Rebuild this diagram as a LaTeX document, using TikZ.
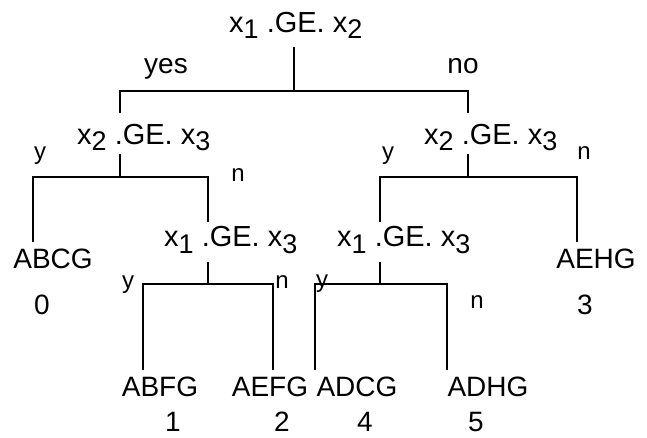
\documentclass[tikz,border=0pt]{standalone}
\usepackage{fontspec}
\setmainfont{Liberation Sans}
\newcommand{\sbx}[1]{\raisebox{-6pt}{\fontsize{27}{27}\selectfont #1}}
\begin{document}
\begin{tikzpicture}[x=1pt,y=-1pt,
  conn/.style={line width=2.8pt},
  cond/.style={anchor=base west,inner sep=0pt,font=\fontsize{29}{29}\selectfont},
  leaf/.style={anchor=base,inner sep=0pt,font=\fontsize{28}{28}\selectfont},
  num/.style={leaf,text depth=0pt,text height=20pt},
  lab/.style={anchor=base,inner sep=0pt,font=\fontsize{28}{28}\selectfont},
  yn/.style={anchor=base,inner sep=0pt,font=\fontsize{24}{24}\selectfont}]
\useasboundingbox (0,0) rectangle (647,438);
% condition nodes
\node[cond] (r)  at (229,33)  {x\sbx{1} .GE. x\sbx{2}};
\node[cond] (c1) at (77,145)  {x\sbx{2} .GE. x\sbx{3}};
\node[cond] (c2) at (424,145) {x\sbx{2} .GE. x\sbx{3}};
\node[cond] (c3) at (164,247) {x\sbx{1} .GE. x\sbx{3}};
\node[cond] (c4) at (337,247) {x\sbx{1} .GE. x\sbx{3}};
% leaves
\node[leaf] (l0) at (53,268)  {ABCG};
\node[num]  (n0) at (42,314)  {0};
\node[leaf] (l3) at (596,268) {AEHG};
\node[num]  (n3) at (585,314) {3};
\node[leaf] (l1) at (160,396) {ABFG};
\node[num]  (n1) at (173,431) {1};
\node[leaf] (l2) at (270,396) {AEFG};
\node[num]  (n2) at (282,431) {2};
\node[leaf] (l4) at (357,396) {ADCG};
\node[num]  (n4) at (365,431) {4};
\node[leaf] (l5) at (488,396) {ADHG};
\node[num]  (n5) at (476,431) {5};
% branch labels
\node[lab] (yes) at (166,74) {yes};
\node[lab] (no)  at (463,74) {no};
\node[yn] (y1) at (40,160)  {y};
\node[yn] (m1) at (238,182) {n};
\node[yn] (y2) at (388,160) {y};
\node[yn] (m2) at (584,160) {n};
\node[yn] (y3) at (128,288) {y};
\node[yn] (m3) at (282,288) {n};
\node[yn] (y4) at (322,287) {y};
\node[yn] (m4) at (477,308) {n};
% attachment points
\coordinate (r-b)  at (294,47);
\coordinate (c1-t) at (120,113);
\coordinate (c1-b) at (120,154);
\coordinate (c2-t) at (468,113);
\coordinate (c2-b) at (468,154);
\coordinate (c3-t) at (208,222);
\coordinate (c3-b) at (208,262);
\coordinate (c4-t) at (380,222);
\coordinate (c4-b) at (380,262);
\coordinate (l0-t) at (33,242);
\coordinate (l3-t) at (577,242);
\coordinate (l1-t) at (143,370);
\coordinate (l2-t) at (273,370);
\coordinate (l4-t) at (315,370);
\coordinate (l5-t) at (447,370);
% connectors
\draw[conn] (r-b) -- ++(0,44) coordinate (r-j);
\draw[conn] (c1-t) |- (r-j) -| (c2-t);
\draw[conn] (c1-b) -- ++(0,23) coordinate (c1-j);
\draw[conn] (l0-t) |- (c1-j) -| (c3-t);
\draw[conn] (c2-b) -- ++(0,23) coordinate (c2-j);
\draw[conn] (c4-t) |- (c2-j) -| (l3-t);
\draw[conn] (c3-b) -- ++(0,22) coordinate (c3-j);
\draw[conn] (l1-t) |- (c3-j) -| (l2-t);
\draw[conn] (c4-b) -- ++(0,22) coordinate (c4-j);
\draw[conn] (l4-t) |- (c4-j) -| (l5-t);
\end{tikzpicture}
\end{document}
